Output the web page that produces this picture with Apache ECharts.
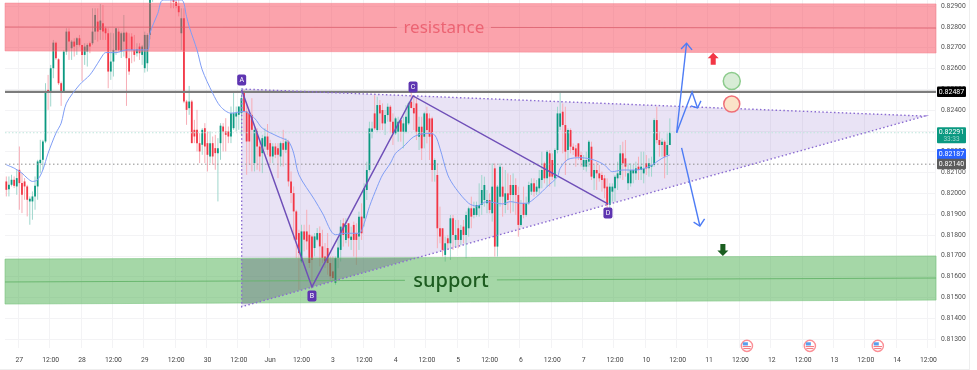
<!DOCTYPE html>
<html>
<head>
<meta charset="utf-8">
<style>
  html, body { margin: 0; padding: 0; background: #fff; }
  #chart { width: 977px; height: 370px; filter: blur(0.4px); }
  body::after { content: ""; position: fixed; left: 0; top: 0; width: 969px; height: 369px; border-right: 1px solid #eeeeee; border-bottom: 1px solid #eeeeee; pointer-events: none; }
</style>
</head>
<body>
<div id="chart"></div>
<script src="https://cdn.jsdelivr.net/npm/echarts@6/dist/echarts.min.js"></script>
<script>
// all prices are kept in 1e-5 units (82900 = 0.82900)
const dayLabels = ['27','28','29','30','Jun','3','4','5','6','7','10','11','12','13','14'];
const yTicks = [82900,82800,82700,82600,82500,82400,82300,82200,82100,82000,81900,81800,81700,81600,81500,81400,81300];

const opens = [
82057,82020,82041,82065,82033,82113,82049,82057,82033,81961,
81961,81985,82033,82145,82161,82249,82497,82489,82601,82724,
82644,82529,82489,82681,82777,82697,82729,82713,82745,82713,
82665,82681,82721,82721,82777,82825,82785,82817,82793,82769,
82585,82633,82689,82777,82681,82729,82772,82649,82753,82689,
82673,82705,82665,82601,82625,82761,82940,83010,83060,83040,
83070,83030,82990,82960,82935,82920,82900,82769,82841,82441,
82409,82441,82305,82305,82241,82233,82313,82241,82177,82241,
82217,82193,82241,82321,82297,82297,82273,82313,82369,82377,
82385,82489,82393,82385,82377,82145,82297,82225,82193,82225,
82273,82241,82177,82225,82217,82177,82241,82209,82249,82057,
82001,81913,81809,81673,81817,81817,81801,81793,81737,81777,
81809,81745,81697,81737,81665,81625,81569,81689,81728,81856,
81776,81856,81776,81848,81808,81792,81888,81880,82016,82112,
82296,82384,82304,82424,82400,82336,82376,82416,82344,82288,
82296,82352,82296,82296,82336,82440,82410,82432,82272,82320,
82272,82384,82360,82360,82112,82088,81832,81832,81704,81784,
81760,81880,81776,81832,81776,81840,81800,81832,81928,81896,
81896,81928,81944,81968,81952,81968,81904,82120,81744,81984,
82032,81944,82000,82040,81992,82040,81992,81848,81952,81896,
81952,82008,82048,82008,82024,82064,82144,82072,82192,82160,
82072,82208,82320,82392,82328,82208,82304,82224,82216,82240,
82184,82128,82128,82152,82224,82072,82112,82096,82088,82072,
82032,81944,82008,82024,82072,82088,82192,82168,82048,82048,
82096,82096,82128,82112,82096,82144,82120,82128,82136,82352,
82256,82232,82248,82184,82232];
const closes = [
82017,82041,82065,82036,82073,82049,81993,82033,81969,81974,
81985,82036,82153,82161,82249,82489,82489,82601,82724,82649,
82529,82489,82681,82777,82729,82729,82705,82745,82713,82665,
82705,82713,82705,82777,82857,82777,82830,82777,82769,82585,
82633,82689,82793,82689,82769,82772,82649,82585,82689,82665,
82692,82673,82705,82761,82761,82940,83010,83060,83040,83070,
83030,82990,82960,82935,82920,82900,82870,82841,82441,82401,
82441,82241,82273,82241,82201,82305,82225,82185,82241,82177,
82193,82217,82325,82297,82281,82273,82385,82385,82385,82417,
82457,82393,82249,82249,82305,82305,82225,82177,82265,82273,
82209,82177,82225,82185,82185,82241,82209,82249,82057,82001,
81913,81777,81713,81817,81777,81769,81665,81681,81793,81809,
81745,81689,81673,81665,81601,81593,81689,81740,81840,81800,
81848,81784,81792,81776,81776,81888,81808,82024,82112,82312,
82312,82312,82424,82384,82336,82376,82416,82344,82288,82360,
82344,82296,82336,82368,82432,82410,82384,82296,82320,82216,
82384,82304,82272,82112,82160,81832,81792,81728,81760,81760,
81880,81800,81800,81776,81824,81800,81896,81928,81888,81928,
81944,81944,82016,82040,81968,81920,82032,81744,82032,82128,
81984,82000,81968,81992,82040,81992,81848,81896,81896,81952,
82040,82048,82008,82032,82072,82112,82072,82200,82080,82080,
82208,82384,82384,82328,82200,82304,82224,82208,82176,82176,
82160,82160,82160,82248,82080,82112,82096,82072,82064,82024,
81944,82032,82032,82080,82096,82192,82144,82128,82096,82112,
82112,82120,82112,82128,82120,82120,82144,82136,82352,82256,
82232,82248,82176,82232,82291];
const highs = [
82081,82081,82089,82081,82113,82225,82097,82073,82041,81985,
82009,82081,82161,82257,82257,82529,82569,82617,82737,82729,
82649,82537,82689,82793,82793,82737,82745,82750,82761,82713,
82721,82721,82729,82889,82889,82889,82910,82905,82801,82793,
82772,82769,82793,82793,82777,82857,82777,82769,82769,82761,
82721,82721,82713,82777,82769,83000,83040,83090,83100,83100,
83110,83060,83030,83020,83000,82990,82940,82889,82889,82449,
82516,82449,82353,82401,82289,82313,82337,82297,82297,82273,
82281,82265,82337,82337,82361,82321,82417,82484,82417,82417,
82505,82497,82433,82401,82457,82321,82313,82257,82281,82313,
82333,82257,82241,82241,82241,82249,82305,82265,82257,82105,
82033,81921,81825,81849,81849,81921,81849,81801,81809,81833,
81841,81825,81761,81809,81697,81697,81697,81780,81872,81880,
81880,81856,81840,81864,81856,81912,81952,82048,82152,82344,
82344,82472,82464,82448,82432,82400,82432,82424,82384,82368,
82368,82360,82368,82424,82440,82484,82464,82456,82368,82368,
82392,82416,82384,82368,82168,82144,81936,81832,81792,81800,
81896,81896,81872,81872,81848,81872,81912,81936,81984,81960,
81960,82048,82088,82080,82016,82000,82144,82144,82040,82144,
82128,82112,82096,82088,82096,82072,82032,81968,82032,81984,
82056,82072,82072,82064,82112,82200,82152,82208,82208,82192,
82216,82416,82483,82432,82416,82312,82312,82240,82232,82240,
82200,82184,82200,82256,82248,82136,82152,82136,82104,82088,
82072,82048,82048,82088,82152,82232,82248,82256,82144,82144,
82136,82152,82176,82200,82200,82184,82168,82176,82360,82416,
82296,82264,82256,82288,82360];
const lows = [
81985,81985,82033,82025,81993,81921,81905,81969,81889,81849,
81873,81921,81969,82097,82113,82241,82401,82417,82553,82641,
82521,82420,82489,82665,82641,82641,82657,82665,82705,82540,
82617,82609,82673,82713,82737,82729,82737,82737,82737,82505,
82545,82561,82665,82681,82650,82657,82420,82569,82625,82633,
82657,82641,82617,82580,82585,82740,82920,83000,83020,83020,
83010,82950,82940,82889,82889,82889,82850,82689,82433,82329,
82377,82241,82241,82201,82145,82185,82145,82105,82145,82137,
82113,81961,82161,82201,82201,82241,82241,82305,82297,82305,
82281,82289,82089,82137,82105,82105,82113,82105,82097,82209,
82185,82145,82145,82169,82073,82129,82129,82193,82033,81953,
81777,81689,81537,81665,81721,81729,81641,81545,81697,81769,
81649,81665,81641,81609,81585,81577,81561,81640,81672,81744,
81760,81744,81728,81696,81656,81728,81776,81840,81968,82104,
82264,82304,82296,82304,82304,82280,82344,82288,82232,82280,
82248,82248,82216,82288,82328,82408,82304,82256,82208,82160,
82216,82240,82160,82056,82056,81736,81760,81696,81672,81728,
81680,81728,81744,81736,81752,81760,81688,81792,81832,81880,
81888,81888,81896,81936,81904,81904,81864,81696,81696,81936,
81888,81904,81920,81904,81912,81896,81792,81840,81880,81888,
81944,81992,81984,81992,82000,82024,82048,82032,82032,82064,
82032,82192,82304,82192,82088,82160,82192,82184,82128,82160,
82128,82112,82104,82128,82064,82016,82016,82056,82008,81976,
81928,81920,81960,81960,82016,82072,82064,82080,82016,82032,
82048,82064,82064,82064,82048,82088,82080,82080,82128,82240,
82176,82176,82072,82088,82232];

// moving average
const maBars = [0,3,6,8,10,12,14,16,19,21,23,28,32,35,37,38,42,46,54,55,58,60,67,69,70,73,75,79,82,86,91,95,98,104,108,110,112,118,121,126,130,135,137,139,142,144,147,149,152,156,161,164,166,169,172,177,180,184,190,193,197,199,203,207,211,212,215,220,225,229,232,236,241,246,251,254];
const maPrices = [82137,82121,82097,82073,82057,82065,82113,82193,82289,82337,82433,82521,82569,82625,82665,82676,82676,82689,82689,82769,82865,82929,82929,82849,82801,82689,82593,82481,82417,82385,82393,82361,82313,82273,82249,82193,82089,81969,81905,81801,81808,81808,81856,81936,82032,82088,82144,82192,82224,82272,82288,82280,82216,82088,82024,81952,81939,81960,81949,81960,81952,81952,81984,82032,82080,82120,82163,82171,82160,82136,82104,82112,82112,82128,82168,82184];

// drawing tools, [bar, price]
const redBand = [[-0.5,82914],[355.9,82910],[355.9,82674],[-0.5,82684]];
const redMidLeft = [[-0.5,82799],[149.5,82797]];
const redMidRight = [[185.5,82797],[355.9,82794]];
const greenBand = [[-0.5,81684],[355.9,81699],[355.9,81487],[-0.5,81468]];
const greenMidLeft = [[-0.5,81574],[152.6,81582]];
const greenMidRight = [[187.8,81584],[355.9,81593]];
const triangle = [[90.1,82501],[351.6,82371],[90.1,81455]];
const overlapShade = [[90.1,81684],[156.4,81689],[93.7,81468],[90.1,81468]];
const abcd = [[90.1,82496],[117,81550],[155.7,82468],[230.3,81949]];
const abcdNames = ['A','B','C','D'];
const abcdOffsets = [-10,9,-9,9];
const arrowUp = [[256.6,82291],[260.4,82721]];
const arrowUpHead = [[258.3,82693],[260.4,82721],[262.5,82689]];
const arrowMid = [[256.6,82291],[262.5,82487],[264.6,82410]];
const arrowMidHead = [[262,82420],[264.6,82410],[265.9,82444]];
const arrowDown = [[258.5,82218],[265.5,81843]];
const arrowDownHead = [[263.1,81862],[265.5,81843],[267.3,81877]];
const redMarker = [270.6,82647];
const greenMarker = [274.3,81728];
const greenCircle = [277.7,82540];
const redCircle = [277.7,82429];
const eventBars = [283.5,307.6,333.6];
const eventPrice = 81267;
const levelResistance = 82487;
const levelDotted = 82140;
const levelLast = 82291;
const tagPrices = [82487,82291,82187,82140];
const tagLabels = ['0.82487','0.82291','0.82187','0.82140'];
const tagColors = ['#000000','#0b9981','#2962ff','#5c5c5c'];

const p = v => v / 100000;
const toPts = arr => arr.map(d => [d[0], p(d[1])]);

const categories = [];
for (let i = 0; i < 356; i++) {
  const k = i - 5;
  if (k >= 0 && k % 24 === 0) categories.push(dayLabels[k / 24]);
  else if (k >= 0 && k % 24 === 12) categories.push('12:00');
  else categories.push('');
}
const showCat = (i, v) => v !== '';

const candleData = opens.map((o, i) => [i, p(o), p(closes[i]), p(lows[i]), p(highs[i])]);

// overlay helper: one custom series that draws one shape through the axis scales
function overlay(points, type, style, extra) {
  const pts = toPts(points);
  return Object.assign({
    type: 'custom', xAxisIndex: 1, yAxisIndex: 0, silent: true, data: pts,
    renderItem: (params, api) => {
      if (params.dataIndex) return null;
      return { type: type, shape: { points: pts.map(d => api.coord(d)) }, style: style };
    }
  }, extra || {});
}
const polyline = (points, stroke, lineWidth, lineDash) =>
  overlay(points, 'polyline', { stroke: stroke, lineWidth: lineWidth, lineDash: lineDash || null, fill: null });
const polygon = (points, fill, stroke) =>
  overlay(points, 'polygon', { fill: fill, stroke: stroke || null, lineWidth: 1 });

function textSeries(pt, text, font, color) {
  return {
    type: 'custom', xAxisIndex: 1, yAxisIndex: 0, silent: true, data: [[pt[0], p(pt[1])]],
    renderItem: (params, api) => {
      const c = api.coord([api.value(0), api.value(1)]);
      return { type: 'text', x: c[0], y: c[1], style: { text: text, font: font, fill: color, align: 'center', verticalAlign: 'middle' } };
    }
  };
}
function marker(pt, symbol, size, fill, stroke, rotate) {
  return {
    type: 'scatter', xAxisIndex: 1, yAxisIndex: 0, silent: true, data: [[pt[0], p(pt[1])]],
    symbol: symbol, symbolSize: size, symbolRotate: rotate || 0,
    itemStyle: { color: fill, borderColor: stroke || 'transparent', borderWidth: stroke ? 1.5 : 0, opacity: 1 }
  };
}

const arrowPath = 'path://M5 0 L10 5.5 L7.3 5.5 L7.3 12 L2.7 12 L2.7 5.5 L0 5.5 Z';
const levelLine = [[-0.5, levelResistance], [355.9, levelResistance]];

const option = {
  animation: false,
  backgroundColor: '#ffffff',
  grid: { left: 5, top: 0, width: 930, height: 348, containLabel: false },
  xAxis: [
    {
      type: 'category', data: categories, boundaryGap: true,
      axisLine: { show: false },
      axisTick: { show: false, alignWithLabel: true, interval: showCat },
      axisLabel: { interval: showCat, color: '#444', fontFamily: 'Roboto', fontSize: 6.8, margin: 9 },
      splitLine: { show: true, interval: showCat, lineStyle: { color: '#f3f3f5', width: 1 } }
    },
    { type: 'value', min: -0.5, max: 355.5, show: false, splitLine: { show: false } }
  ],
  yAxis: {
    type: 'value', position: 'right', min: p(81256.8), max: p(82928.8), scale: true,
    axisLine: { show: false },
    axisTick: { show: false, customValues: yTicks.map(p) },
    axisLabel: { customValues: yTicks.map(p), color: '#555', fontFamily: 'Roboto', fontSize: 6.8, margin: 6, formatter: v => v.toFixed(5) },
    splitLine: { show: true, lineStyle: { color: '#f3f3f5', width: 1 } }
  },
  series: [
    // triangle fill sits under the candles
    polygon(triangle, 'rgba(126,87,194,0.17)'),
    // candles
    {
      type: 'custom', xAxisIndex: 1, yAxisIndex: 0, silent: true, data: candleData,
      encode: { x: 0, y: [1, 2, 3, 4] },
      renderItem: (params, api) => {
        const i = api.value(0), o = api.value(1), c = api.value(2), l = api.value(3), h = api.value(4);
        const up = c >= o;
        const top = api.coord([i, Math.max(o, c)]);
        const bot = api.coord([i, Math.min(o, c)]);
        const hi = api.coord([i, h]);
        const lo = api.coord([i, l]);
        return {
          type: 'group',
          children: [
            { type: 'line', shape: { x1: hi[0], y1: hi[1], x2: lo[0], y2: lo[1] }, style: { stroke: up ? '#9fd6cc' : '#f7adb6', lineWidth: 1 } },
            { type: 'rect', shape: { x: top[0] - 0.9, y: top[1], width: 1.8, height: Math.max(bot[1] - top[1], 1) }, style: { fill: up ? '#0b9981' : '#f23645' } }
          ]
        };
      }
    },
    // moving average
    {
      type: 'line', xAxisIndex: 1, yAxisIndex: 0, silent: true, showSymbol: false, smooth: 0.3,
      data: maBars.map((b, i) => [b, p(maPrices[i])]),
      lineStyle: { color: '#7f9df5', width: 1 }
    },
    // levels
    polyline([[-0.5,levelLast],[355.9,levelLast]], '#bfe6dd', 1, [1.5, 2]),
    polyline([[-0.5,levelDotted],[355.9,levelDotted]], '#8e8e8e', 1, [1.5, 2.5]),
    // zones
    polygon(redBand, 'rgba(247,72,90,0.5)', 'rgba(245,130,142,0.5)'),
    polyline(redMidLeft, 'rgba(215,85,100,0.7)', 1),
    polyline(redMidRight, 'rgba(215,85,100,0.7)', 1),
    polygon(greenBand, 'rgba(76,175,80,0.5)', 'rgba(120,195,125,0.6)'),
    polygon(overlapShade, 'rgba(85,50,120,0.18)'),
    polyline(greenMidLeft, 'rgba(100,180,105,0.9)', 1),
    polyline(greenMidRight, 'rgba(100,180,105,0.9)', 1),
    polyline(levelLine, '#7c7c7c', 2.2),
    // triangle outline
    polyline([triangle[0], triangle[1], triangle[2], triangle[0]], '#8a6bd1', 1.4, [1.5, 2.4]),
    // abcd pattern
    polyline(abcd, '#6f4fb8', 1.5),
    // forecast arrows
    polyline(arrowUp, '#4d7cf5', 1.4),
    polyline(arrowUpHead, '#4d7cf5', 1.4),
    polyline(arrowMid, '#4d7cf5', 1.4),
    polyline(arrowMidHead, '#4d7cf5', 1.4),
    polyline(arrowDown, '#4d7cf5', 1.4),
    polyline(arrowDownHead, '#4d7cf5', 1.4),
    // markers
    marker(redMarker, arrowPath, [11, 12], '#f23645'),
    marker(greenMarker, arrowPath, [11, 12], '#1b5e20', null, 180),
    marker(greenCircle, 'circle', 17, '#d8ecd6', '#8ccb8c'),
    marker(redCircle, 'circle', 16, '#fbe3c8', '#ef6f78'),
    // zone captions
    textSeries([167.5, 82794], 'resistance', '17px "Noto Sans"', '#ec6473'),
    textSeries([170.2, 81579], 'support', '500 20px "Noto Sans"', '#1d5c20'),
    // abcd letters
    {
      type: 'custom', xAxisIndex: 1, yAxisIndex: 0, silent: true, data: toPts(abcd),
      renderItem: (params, api) => {
        const c = api.coord([api.value(0), api.value(1)]);
        const y = c[1] + abcdOffsets[params.dataIndex];
        return {
          type: 'group',
          children: [
            { type: 'rect', shape: { x: c[0] - 4.5, y: y - 5.5, width: 9, height: 11, r: 2 }, style: { fill: '#5e35b1' } },
            { type: 'text', x: c[0], y: y, style: { text: abcdNames[params.dataIndex], font: '7px Roboto', fill: '#fff', align: 'center', verticalAlign: 'middle' } }
          ]
        };
      }
    },
    // calendar events
    {
      type: 'custom', xAxisIndex: 1, yAxisIndex: 0, silent: true, data: eventBars.map(b => [b, p(eventPrice)]),
      renderItem: (params, api) => {
        const c = api.coord([api.value(0), api.value(1)]);
        const x = c[0], y = c[1];
        return {
          type: 'group',
          children: [
            { type: 'circle', shape: { cx: x, cy: y, r: 5.6 }, style: { fill: '#fff', stroke: '#fb8f96', lineWidth: 1.4 } },
            { type: 'rect', shape: { x: x - 4, y: y - 3.6, width: 5, height: 3.2 }, style: { fill: '#5b9fec' } },
            { type: 'rect', shape: { x: x - 4.2, y: y + 0.2, width: 8.4, height: 1 }, style: { fill: '#f2737b' } },
            { type: 'rect', shape: { x: x - 3.6, y: y + 2.2, width: 7.2, height: 1 }, style: { fill: '#f2737b' } }
          ]
        };
      }
    },
    // price tags on the axis
    {
      type: 'custom', xAxisIndex: 1, yAxisIndex: 0, silent: true, clip: false,
      data: tagPrices.map((t, i) => [355.5, p(t), i]),
      renderItem: (params, api) => {
        const i = api.value(2);
        const c = api.coord([355.5, api.value(1)]);
        const x = c[0] + 2, y = c[1];
        const isLast = tagLabels[i] === '0.82291';
        const children = [
          { type: 'rect', shape: { x: x, y: y - 5.5, width: 29, height: isLast ? 16 : 10.5, r: 1 }, style: { fill: tagColors[i] } },
          { type: 'text', x: x + 14.5, y: y, style: { text: tagLabels[i], font: '7px Roboto', fill: '#fff', align: 'center', verticalAlign: 'middle' } }
        ];
        if (isLast) children.push({ type: 'text', x: x + 14.5, y: y + 7, style: { text: '33:33', font: '6.5px Roboto', fill: 'rgba(255,255,255,0.6)', align: 'center', verticalAlign: 'middle' } });
        return { type: 'group', children: children };
      }
    }
  ]
};

const myChart = echarts.init(document.getElementById('chart'), null, { renderer: 'canvas' });
myChart.setOption(option);
</script>
</body>
</html>
